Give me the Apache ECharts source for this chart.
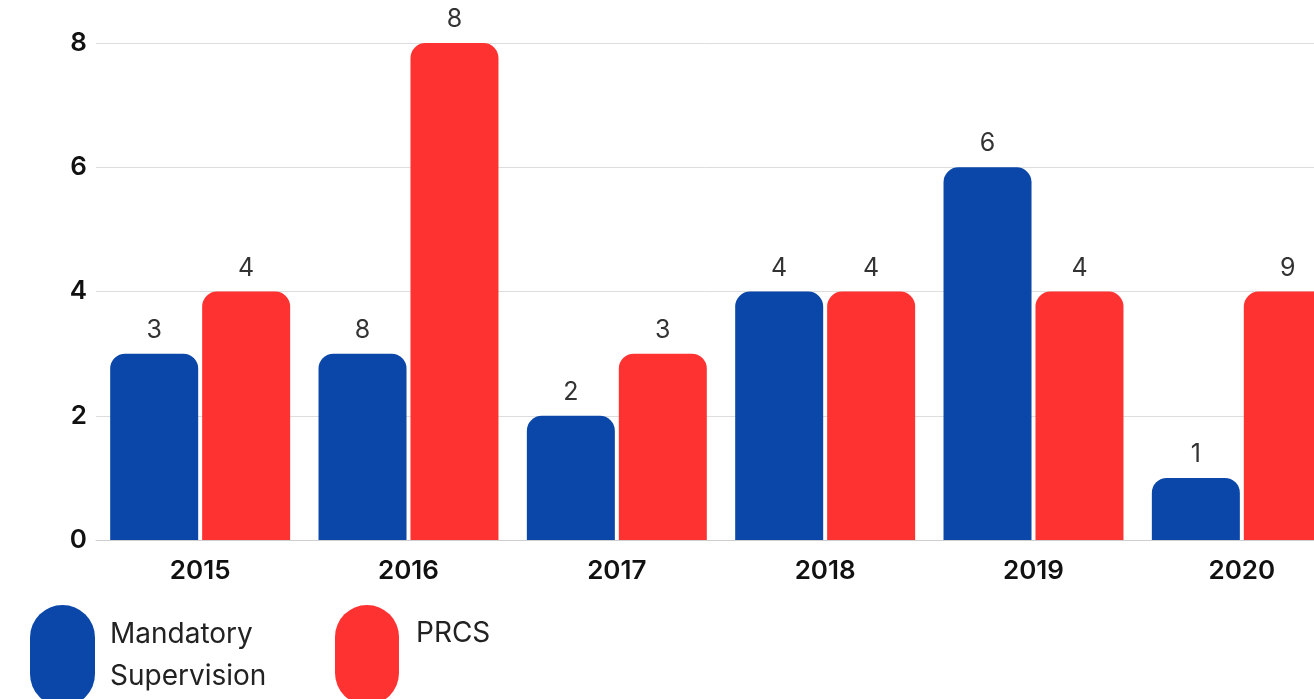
<!DOCTYPE html>
<html>
<head>
<meta charset="utf-8">
<script src="https://cdn.jsdelivr.net/npm/echarts@6/dist/echarts.min.js"></script>
<style>
html,body{margin:0;padding:0;background:#fff;}
#chart{width:1314px;height:699px;}
</style>
</head>
<body>
<div id="chart"></div>
<script>
const years = ['2015', '2016', '2017', '2018', '2019', '2020'];
const msValues = [3, 3, 2, 4, 6, 1];
const msLabels = [3, 8, 2, 4, 6, 1];
const prcsValues = [4, 8, 3, 4, 4, 4];
const prcsLabels = [4, 8, 3, 4, 4, 9];
const yTicks = [0, 2, 4, 6, 8];

const BLUE = '#0a47a9';
const RED = '#ff3232';
const FONT = 'Inter, "Noto Sans", sans-serif';

const pill = 'path://M0,32A32,32 0 0 1 64,32L64,68A32,32 0 0 1 0,68Z';

const chart = echarts.init(document.getElementById('chart'));
chart.setOption({
  animation: false,
  backgroundColor: '#ffffff',
  textStyle: { fontFamily: FONT },
  grid: { left: 96, top: 43, right: -32, bottom: 159, containLabel: false, outerBoundsMode: 'none' },
  legend: [
    {
      left: 30, top: 605, orient: 'horizontal', padding: 0,
      icon: pill, itemWidth: 65, itemHeight: 102,
      data: ['Mandatory Supervision'],
      formatter: () => 'Mandatory\nSupervision',
      textStyle: { fontFamily: FONT, fontSize: 28, color: '#222', lineHeight: 42, padding: [10, 0, 0, 10] }
    },
    {
      left: 335, top: 605, orient: 'horizontal', padding: 0,
      icon: pill, itemWidth: 64, itemHeight: 102,
      data: ['PRCS'],
      formatter: () => 'PRCS\n ',
      textStyle: { fontFamily: FONT, fontSize: 28, color: '#222', lineHeight: 42, padding: [10, 0, 0, 12] }
    }
  ],
  xAxis: {
    type: 'category',
    data: years,
    axisTick: { show: false },
    axisLine: { show: true, lineStyle: { color: '#cfcfcf', width: 1 } },
    axisLabel: { fontFamily: FONT, fontSize: 26, fontWeight: 600, color: '#111', margin: 18 }
  },
  yAxis: {
    type: 'value',
    min: yTicks[0], max: yTicks[yTicks.length - 1], interval: 2,
    axisLine: { show: false },
    axisTick: { show: false },
    splitLine: { lineStyle: { color: '#dddddd', width: 1 } },
    axisLabel: { fontFamily: FONT, fontSize: 26, fontWeight: 600, color: '#111', margin: 9 }
  },
  series: [
    {
      name: 'Mandatory Supervision',
      type: 'bar',
      data: msValues,
      barWidth: 88,
      barGap: '4.5%',
      itemStyle: { color: BLUE, borderRadius: [15, 15, 0, 0] },
      label: {
        show: true, position: 'top', distance: 11,
        fontFamily: FONT, fontSize: 25, color: '#333',
        formatter: p => String(msLabels[p.dataIndex])
      }
    },
    {
      name: 'PRCS',
      type: 'bar',
      data: prcsValues,
      barWidth: 88,
      barGap: '4.5%',
      itemStyle: { color: RED, borderRadius: [15, 15, 0, 0] },
      label: {
        show: true, position: 'top', distance: 11,
        fontFamily: FONT, fontSize: 25, color: '#333',
        formatter: p => String(prcsLabels[p.dataIndex])
      }
    }
  ]
});
</script>
</body>
</html>
